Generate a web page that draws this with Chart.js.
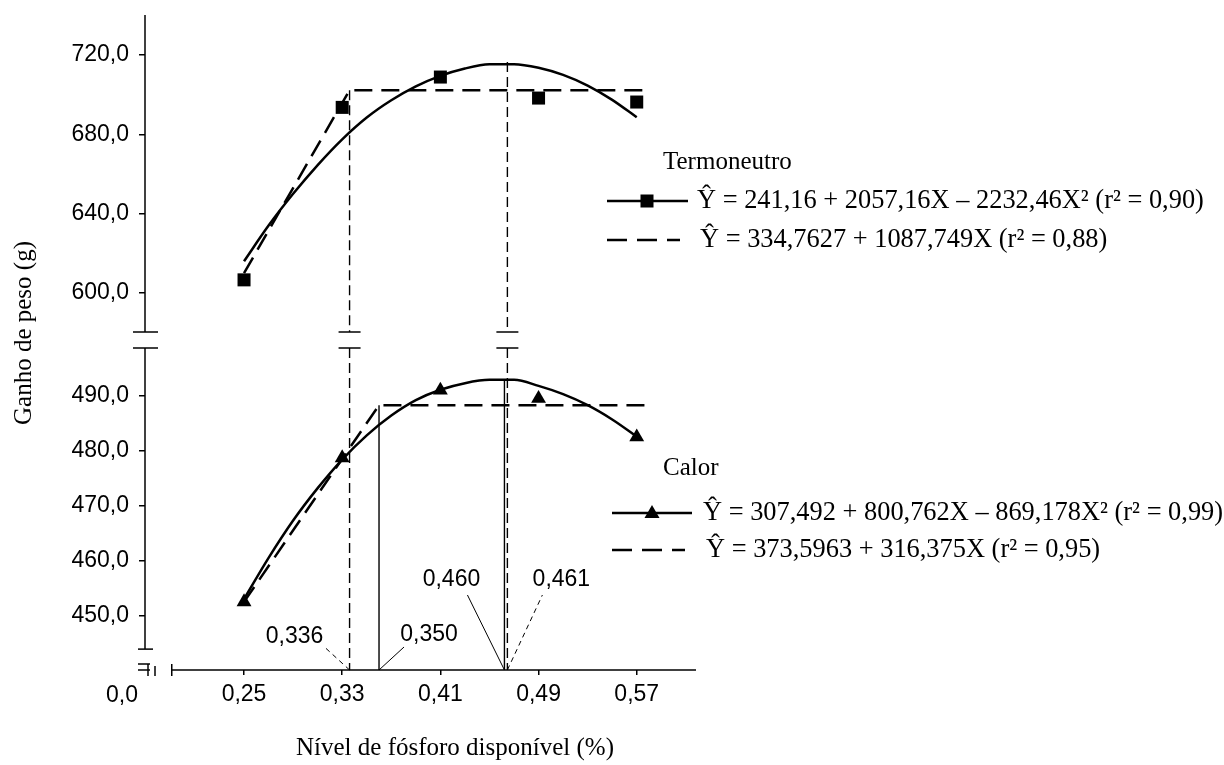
<!DOCTYPE html>
<html lang="pt-BR">
<head>
<meta charset="utf-8">
<title>Ganho de peso x nível de fósforo disponível</title>
<script src="https://cdn.jsdelivr.net/npm/chart.js@4.4.1/dist/chart.umd.min.js"></script>
<style>
  html, body { margin: 0; padding: 0; background: #fff; }
  #quadro { position: relative; width: 1224px; height: 765px; }
  #quadro canvas { position: absolute; left: 0; top: 0; }
</style>
</head>
<body>
<div id="quadro">
  <canvas id="graf-calor" width="1224" height="765"></canvas>
  <canvas id="graf-termo" width="1224" height="765"></canvas>
</div>
<script>
// niveis de fosforo (%) e medias observadas
var niveis = [0.25, 0.33, 0.41, 0.49, 0.57];
var ganhoTermo = [606.6, 693.6, 708.9, 698.3, 696.3];
var ganhoCalor = [452.5, 478.7, 491.0, 489.5, 482.5];

// curvas quadraticas
var curvaX = [0.25, 0.27, 0.29, 0.31, 0.33, 0.35, 0.37, 0.39, 0.41, 0.43, 0.45, 0.47, 0.49, 0.51, 0.53, 0.55, 0.57];
var curvaTermo = [616.0, 634.0, 650.0, 664.5, 677.5, 688.5, 697.2, 704.2, 709.5, 713.2, 715.3, 715.4, 713.6, 710.0, 704.6, 697.4, 688.6];
var curvaCalor = [453.0, 460.5, 467.3, 473.2, 478.4, 482.8, 486.4, 489.2, 491.1, 492.3, 492.9, 492.9, 491.8, 490.3, 488.3, 485.7, 482.6];

// modelo linear response plateau
var platTermoX = [0.25, 0.336, 0.580];
var platTermoY = [610.0, 702.3, 702.3];
var platCalorX = [0.25, 0.360, 0.577];
var platCalorY = [452.5, 488.3, 488.3];

// niveis otimos (linhas verticais) e rotulos
var otimoX = [0.336, 0.360, 0.4622, 0.4646];
var otimoTexto = ['0,336', '0,350', '0,460', '0,461'];
var topoTermo = [702.3, 716.5];
var topoCalor = [488.3, 492.9];

// eixos
var ticksX = [0.25, 0.33, 0.41, 0.49, 0.57];
var ticksTermo = [600, 640, 680, 720];
var ticksCalor = [450, 460, 470, 480, 490];
var faixaX = [0.1693, 0.6183];
var faixaTermo = [580.3, 740.2];
var faixaCalor = [440.1, 498.7];
var inicioEixoX = 0.1911;
var fimEixoCalor = 443.9;

var tituloX = 'N\u00edvel de f\u00f3sforo dispon\u00edvel (%)';
var tituloY = 'Ganho de peso (g)';
var legTermo = ['Termoneutro', '\u0176 = 241,16 + 2057,16X \u2013 2232,46X\u00b2 (r\u00b2 = 0,90)', '\u0176 = 334,7627 + 1087,749X (r\u00b2 = 0,88)'];
var legCalor = ['Calor', '\u0176 = 307,492 + 800,762X \u2013 869,178X\u00b2 (r\u00b2 = 0,99)', '\u0176 = 373,5963 + 316,375X (r\u00b2 = 0,95)'];

var SANS = '"Liberation Sans", Arial, sans-serif';
var SERIF = '"Liberation Serif", "Times New Roman", serif';
Chart.defaults.color = '#000';
Chart.defaults.font.family = SANS;

function pontos(xs, ys) {
    return xs.map(function(x, i) { return { x: x, y: ys[i] }; });
}

function vertical(x, y0, y1, tracejada) {
    return {
        data: [{ x: x, y: y0 }, { x: x, y: y1 }],
        borderColor: '#000', borderWidth: 1.4, pointRadius: 0,
        borderDash: tracejada ? [10, 5] : [], tension: 0
    };
}

function linha(ctx, x0, y0, x1, y1) {
    ctx.beginPath(); ctx.moveTo(x0, y0); ctx.lineTo(x1, y1); ctx.stroke();
}

function fmt(casas) {
    return function(v) { return Number(v).toFixed(casas).replace('.', ','); };
}

function escalaY(faixa, ticks) {
    return {
        min: faixa[0], max: faixa[1],
        afterFit: function(s) {
            s.width = 145;
            s.paddingTop = 0;
            s.paddingBottom = 0;
        },
        afterBuildTicks: function(s) { s.ticks = ticks.map(function(v) { return { value: v }; }); },
        border: { display: false },
        grid: { drawOnChartArea: false, drawTicks: true, tickLength: 6, color: '#000', lineWidth: 1.5 },
        ticks: { padding: 10, font: { size: 23 }, callback: fmt(1) }
    };
}

function legenda(ctx, textos, m) {
    ctx.fillStyle = '#000';
    ctx.strokeStyle = '#000';
    ctx.textAlign = 'left';
    ctx.textBaseline = 'middle';
    ctx.font = '25px ' + SERIF;
    ctx.fillText(textos[0], m.tx, m.ty);
    ctx.lineWidth = 2.5;
    ctx.setLineDash([]);
    linha(ctx, m.x0, m.y1, m.x1, m.y1);
    if (m.marca === 'rect') {
        ctx.fillRect(m.mx - 6.5, m.y1 - 6.5, 13, 13);
    } else {
        ctx.beginPath();
        ctx.moveTo(m.mx, m.y1 - 8);
        ctx.lineTo(m.mx + 7.5, m.y1 + 5);
        ctx.lineTo(m.mx - 7.5, m.y1 + 5);
        ctx.closePath(); ctx.fill();
    }
    ctx.font = '26.4px ' + SERIF;
    ctx.fillText(textos[1], m.t1, m.y1);
    ctx.setLineDash([20, 10]);
    linha(ctx, m.x0, m.y2, m.x2, m.y2);
    ctx.setLineDash([]);
    ctx.fillText(textos[2], m.t2, m.y2);
}

var desenhoTermo = {
    id: 'desenhoTermo',
    afterDraw: function(chart) {
        var ctx = chart.ctx, a = chart.chartArea, sx = chart.scales.x;
        ctx.save();
        ctx.strokeStyle = '#000';
        ctx.lineWidth = 1.5;
        linha(ctx, a.left, a.top, a.left, a.bottom);
        linha(ctx, a.left - 12, a.bottom, a.left + 13, a.bottom);
        [otimoX[0], otimoX[3]].forEach(function(v) {
            var px = sx.getPixelForValue(v);
            linha(ctx, px - 11, a.bottom, px + 11, a.bottom);
        });
        legenda(ctx, legTermo, { tx: 663, ty: 162, x0: 607, x1: 688, mx: 647, y1: 201, t1: 697, y2: 240, x2: 680, t2: 700, marca: 'rect' });
        legenda(ctx, legCalor, { tx: 663, ty: 468, x0: 612, x1: 692, mx: 652, y1: 513, t1: 703, y2: 550, x2: 685, t2: 706, marca: 'triangle' });
        ctx.restore();
    }
};

// posicoes dos rotulos dos niveis otimos, relativas ao pe de cada linha
var chamadas = [
    { tracejada: true,  dx: -24, dy: -22, lx: -31, ly: -11 },
    { tracejada: false, dx: 25,  dy: -23, lx: 25,  ly: -12 },
    { tracejada: false, dx: -37, dy: -75, lx: -16, ly: -15 },
    { tracejada: true,  dx: 35,  dy: -75, lx: 19,  ly: -15 }
];

var desenhoCalor = {
    id: 'desenhoCalor',
    afterDraw: function(chart) {
        var ctx = chart.ctx, a = chart.chartArea, sx = chart.scales.x, sy = chart.scales.y;
        var yFim = sy.getPixelForValue(fimEixoCalor);
        var x0 = sx.getPixelForValue(inicioEixoX);
        ctx.save();
        ctx.strokeStyle = '#000';
        ctx.fillStyle = '#000';
        ctx.lineWidth = 1.5;
        // eixo y com cortes
        linha(ctx, a.left, a.top, a.left, yFim);
        linha(ctx, a.left - 12, a.top, a.left + 13, a.top);
        linha(ctx, a.left - 7, yFim, a.left + 8, yFim);
        // eixo x com quebra
        linha(ctx, x0, a.bottom, a.right, a.bottom);
        linha(ctx, x0, a.bottom - 6, x0, a.bottom + 6);
        linha(ctx, a.left - 7, a.bottom - 6, a.left + 5, a.bottom - 6);
        linha(ctx, a.left - 7, a.bottom, a.left + 5, a.bottom);
        linha(ctx, a.left + 3, a.bottom - 6, a.left + 3, a.bottom + 6);
        linha(ctx, a.left + 10, a.bottom - 4, a.left + 10, a.bottom + 6);
        [otimoX[0], otimoX[3]].forEach(function(v) {
            var px = sx.getPixelForValue(v);
            linha(ctx, px - 11, a.top, px + 11, a.top);
        });
        // rotulos dos niveis otimos
        ctx.font = '23px ' + SANS;
        ctx.textAlign = 'center';
        ctx.textBaseline = 'middle';
        ctx.lineWidth = 1;
        chamadas.forEach(function(c, i) {
            var px = sx.getPixelForValue(otimoX[i]);
            ctx.setLineDash(c.tracejada ? [5, 4] : []);
            linha(ctx, px, a.bottom, px + c.dx, a.bottom + c.dy);
            ctx.fillText(otimoTexto[i], px + c.dx + c.lx, a.bottom + c.dy + c.ly);
        });
        ctx.setLineDash([]);
        ctx.fillText('0,0', a.left - 23, a.bottom + 26);
        // titulos dos eixos
        ctx.font = '25px ' + SERIF;
        ctx.fillText(tituloX, 455, 748);
        ctx.translate(24, 333);
        ctx.rotate(-Math.PI / 2);
        ctx.fillText(tituloY, 0, 0);
        ctx.restore();
    }
};

var grafTermo = new Chart(document.getElementById('graf-termo'), {
    type: 'line',
    data: {
        datasets: [
            {
                type: 'scatter', data: pontos(niveis, ganhoTermo), showLine: false,
                pointStyle: 'rect', pointRadius: 9.2, backgroundColor: '#000', borderColor: '#000', borderWidth: 0
            },
            {
                data: pontos(curvaX, curvaTermo), borderColor: '#000', borderWidth: 2.5,
                pointRadius: 0, cubicInterpolationMode: 'monotone'
            },
            {
                data: pontos(platTermoX, platTermoY), borderColor: '#000', borderWidth: 2.5,
                pointRadius: 0, borderDash: [18, 9], tension: 0
            },
            vertical(otimoX[0], topoTermo[0], faixaTermo[0], true),
            vertical(otimoX[3], topoTermo[1], faixaTermo[0], true)
        ]
    },
    options: {
        responsive: false, animation: false,
        layout: { autoPadding: false, padding: { left: 0, top: 15, right: 528, bottom: 433 } },
        plugins: { legend: { display: false }, tooltip: { enabled: false } },
        scales: {
            x: { type: 'linear', min: faixaX[0], max: faixaX[1], display: false },
            y: escalaY(faixaTermo, ticksTermo)
        }
    },
    plugins: [desenhoTermo]
});

var grafCalor = new Chart(document.getElementById('graf-calor'), {
    type: 'line',
    data: {
        datasets: [
            {
                type: 'scatter', data: pontos(niveis, ganhoCalor), showLine: false,
                pointStyle: 'triangle', pointRadius: 8.6, backgroundColor: '#000', borderColor: '#000', borderWidth: 0
            },
            {
                data: pontos(curvaX, curvaCalor), borderColor: '#000', borderWidth: 2.5,
                pointRadius: 0, cubicInterpolationMode: 'monotone'
            },
            {
                data: pontos(platCalorX, platCalorY), borderColor: '#000', borderWidth: 2.5,
                pointRadius: 0, borderDash: [18, 9], tension: 0
            },
            vertical(otimoX[0], faixaCalor[1], faixaCalor[0], true),
            vertical(otimoX[3], faixaCalor[1], faixaCalor[0], true),
            vertical(otimoX[1], topoCalor[0], faixaCalor[0], false),
            vertical(otimoX[2], topoCalor[1], faixaCalor[0], false)
        ]
    },
    options: {
        responsive: false, animation: false,
        layout: { autoPadding: false, padding: { left: 0, top: 348, right: 528, bottom: 0 } },
        plugins: { legend: { display: false }, tooltip: { enabled: false } },
        scales: {
            x: {
                type: 'linear', min: faixaX[0], max: faixaX[1],
                afterFit: function(s) { s.height = 95; },
                afterBuildTicks: function(s) { s.ticks = ticksX.map(function(v) { return { value: v }; }); },
                border: { display: false },
                grid: { drawOnChartArea: false, drawTicks: true, tickLength: 5, color: '#000', lineWidth: 1.5 },
                ticks: { padding: 6, maxRotation: 0, font: { size: 23 }, callback: fmt(2) }
            },
            y: escalaY(faixaCalor, ticksCalor)
        }
    },
    plugins: [desenhoCalor]
});
</script>
</body>
</html>
